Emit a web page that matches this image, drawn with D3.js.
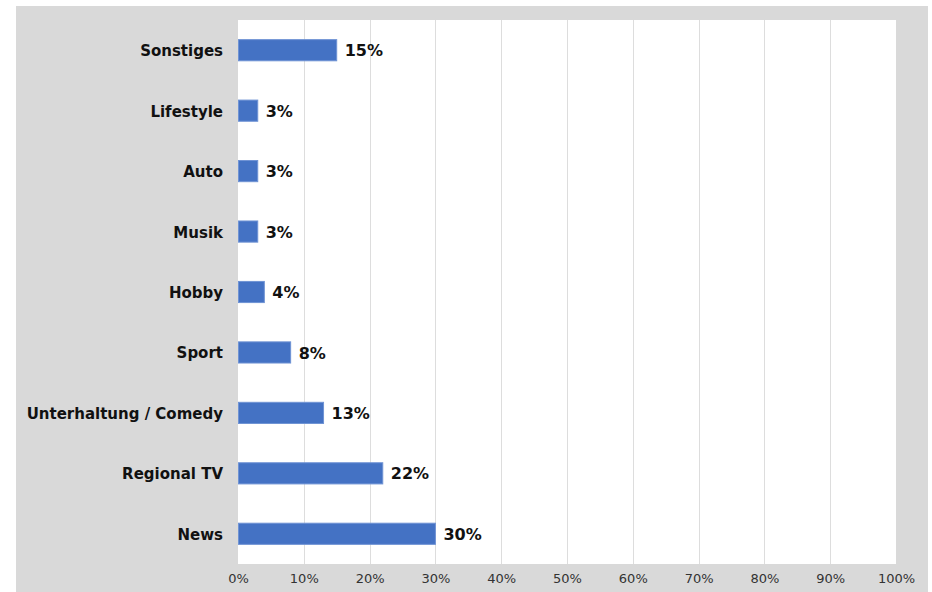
<!DOCTYPE html>
<html>
<head>
<meta charset="utf-8">
<script src="https://cdn.jsdelivr.net/npm/d3@7"></script>
<style>
  html, body { margin: 0; padding: 0; background: #ffffff; }
  svg { display: block; }
</style>
</head>
<body>
<svg id="chart" width="932" height="592"></svg>
<script>
// Categories (top to bottom) and their shares in percent
const categories = ["Sonstiges", "Lifestyle", "Auto", "Musik", "Hobby", "Sport", "Unterhaltung / Comedy", "Regional TV", "News"];
const values = [15, 3, 3, 3, 4, 8, 13, 22, 30];
const tickValues = [0, 10, 20, 30, 40, 50, 60, 70, 80, 90, 100];

const svg = d3.select("#chart");
const W = 932, H = 592;
const margin = { top: 20, right: 36, bottom: 28, left: 238 };
const plotW = W - margin.left - margin.right;
const plotH = H - margin.top - margin.bottom;

// Gray frame behind the whole chart
svg.append("rect")
  .attr("x", 16).attr("y", 6)
  .attr("width", 912).attr("height", H - 6)
  .attr("fill", "#d9d9d9");

const g = svg.append("g").attr("transform", `translate(${margin.left},${margin.top})`);

// White plot area
g.append("rect")
  .attr("width", plotW).attr("height", plotH)
  .attr("fill", "#ffffff");

const x = d3.scaleLinear().domain([0, 100]).range([0, plotW]);
const y = d3.scaleBand().domain(categories).range([0, plotH]).paddingInner(0.65).paddingOuter(0.325);

// Vertical gridlines
g.selectAll("line.grid")
  .data(tickValues.filter(t => t > 0 && t < 100))
  .join("line")
  .attr("class", "grid")
  .attr("x1", d => Math.round(x(d)) + 0.5).attr("x2", d => Math.round(x(d)) + 0.5)
  .attr("y1", 0).attr("y2", plotH)
  .attr("stroke", "#dddddd").attr("stroke-width", 1);

// Bars
const data = categories.map((c, i) => ({ c, v: values[i] }));
g.selectAll("rect.bar")
  .data(data)
  .join("rect")
  .attr("class", "bar")
  .attr("x", 0.5)
  .attr("y", d => y(d.c))
  .attr("width", d => x(d.v) - 0.5)
  .attr("height", y.bandwidth())
  .attr("fill", "#4472c4")
  .attr("stroke", "#6f93d4")
  .attr("stroke-width", 1);

// Value labels
g.selectAll("text.val")
  .data(data)
  .join("text")
  .attr("class", "val")
  .attr("x", d => x(d.v) + 8)
  .attr("y", d => y(d.c) + y.bandwidth() / 2)
  .attr("dy", "0.38em")
  .attr("font-family", "DejaVu Sans, Verdana, sans-serif")
  .attr("font-weight", "bold")
  .attr("font-size", 16)
  .attr("fill", "#111111")
  .text(d => d.v + "%");

// Category axis
const yAxis = g.append("g").call(d3.axisLeft(y).tickSize(0).tickPadding(15));
yAxis.select(".domain").remove();
yAxis.selectAll("text")
  .attr("dy", "0.4em")
  .attr("font-family", "DejaVu Sans, Verdana, sans-serif")
  .attr("font-weight", "bold")
  .attr("font-size", 15)
  .attr("fill", "#111111");

// Percent axis
const xAxis = g.append("g")
  .attr("transform", `translate(0,${plotH})`)
  .call(d3.axisBottom(x).tickValues(tickValues).tickSize(0).tickPadding(10).tickFormat(d => d + "%"));
xAxis.select(".domain").remove();
xAxis.selectAll("text")
  .attr("font-family", "DejaVu Sans, Verdana, sans-serif")
  .attr("font-size", 13)
  .attr("fill", "#333333");
</script>
</body>
</html>
